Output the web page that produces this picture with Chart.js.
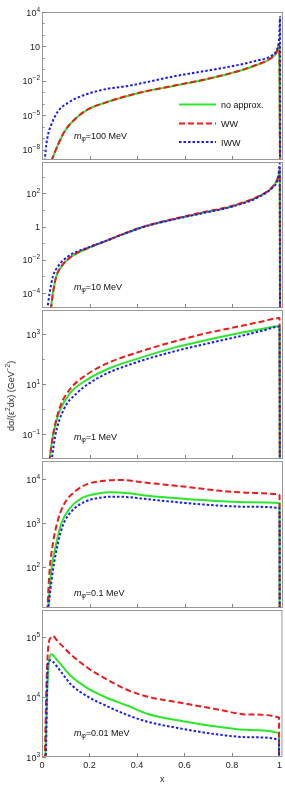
<!DOCTYPE html>
<html>
<head>
<meta charset="utf-8">
<script src="https://cdn.jsdelivr.net/npm/chart.js@4.4.1/dist/chart.umd.min.js"></script>
<style>
    html, body { margin: 0; padding: 0; background: #fff; }
    #wrap { position: relative; width: 285px; height: 788px; overflow: hidden; }
    #wrap canvas { position: absolute; left: 0; top: 0; }
    #ytitle {
        position: absolute; left: 10px; top: 396px;
        transform: translate(-50%, -50%) rotate(-90deg);
        font: 9px "Liberation Sans", Arial, sans-serif;
        white-space: nowrap; color: #222;
    }
    #ytitle sup { font-size: 6.5px; }
</style>
</head>
<body>
<div id="wrap">
    <canvas id="panel0" width="285" height="788"></canvas>
    <canvas id="panel1" width="285" height="788"></canvas>
    <canvas id="panel2" width="285" height="788"></canvas>
    <canvas id="panel3" width="285" height="788"></canvas>
    <canvas id="panel4" width="285" height="788"></canvas>
    <div id="ytitle">dσ/(ε<sup>2</sup>dx) (GeV<sup>−2</sup>)</div>
</div>
<script>
// ===== dσ/(ε²dx) vs x para cinco masas =====

const seriesNames = ['no approx.', 'WW', 'IWW'];
const massLabels = ['100 MeV', '10 MeV', '1 MeV', '0.1 MeV', '0.01 MeV'];
const xTicks = [0, 0.2, 0.4, 0.6, 0.8, 1];

// m = 100 MeV
const exact100 = [[0.039,1e-9],[0.067,2.6e-8],[0.095,3.9e-7],[0.137,4.2e-6],[0.193,3.2e-5],[0.263,1.2e-4],[0.333,3.4e-4],[0.412,9.3e-4],[0.552,3.6e-3],[0.692,1.4e-2],[0.832,7.6e-2],[0.902,0.24],[0.958,0.81],[0.986,3.2],[0.997,17],[1.0005,1e-12]];
const ww100 = [[0.039,1e-9],[0.067,2.7e-8],[0.095,4.0e-7],[0.137,4.3e-6],[0.193,3.3e-5],[0.263,1.2e-4],[0.333,3.5e-4],[0.412,9.5e-4],[0.552,3.7e-3],[0.692,1.45e-2],[0.832,7.8e-2],[0.902,0.25],[0.958,0.83],[0.986,3.3],[0.997,17],[1.0005,1e-12]];
const iww100 = [[0.011,1e-9],[0.018,2.6e-8],[0.025,1.9e-7],[0.039,1.5e-6],[0.067,2.2e-5],[0.109,1.2e-4],[0.165,4.7e-4],[0.263,1.8e-3],[0.361,3.6e-3],[0.412,5.8e-3],[0.552,2.4e-2],[0.692,7.6e-2],[0.832,0.26],[0.902,0.58],[0.958,1.3],[0.986,5.1],[0.997,66],[1.0,3900],[1.0005,1e-12]];
const range100 = [1.26e-9, 1e4];
const yTicks100 = [1e4, 10, 1e-2, 1e-5, 1e-8];
const yLabels100 = ['10^4', '10', '10^−2', '10^−5', '10^−8'];
const yMinor100 = [1e3, 1e2, 1, 0.1, 1e-3, 1e-4, 1e-6, 1e-7];

// m = 10 MeV
const exact10 = [[0.037,1e-5],[0.046,9.8e-5],[0.06,9.8e-4],[0.081,3.9e-3],[0.123,1.55e-2],[0.193,5e-2],[0.263,0.126],[0.333,0.32],[0.43,1.0],[0.524,2.2],[0.664,6.3],[0.804,17.8],[0.916,71],[0.97,257],[0.993,1000],[0.999,2500],[1.0005,1e-12]];
const ww10 = [[0.037,1e-5],[0.046,1e-4],[0.06,1e-3],[0.081,4e-3],[0.123,1.6e-2],[0.193,5.2e-2],[0.263,0.13],[0.333,0.33],[0.43,1.05],[0.524,2.35],[0.664,6.8],[0.804,19],[0.916,75],[0.97,270],[0.993,1050],[0.999,2600],[1.0005,1e-12]];
const iww10 = [[0.022,1e-5],[0.032,1e-4],[0.046,1e-3],[0.067,4e-3],[0.109,1.6e-2],[0.193,5.6e-2],[0.263,0.13],[0.333,0.32],[0.43,1.0],[0.524,2.2],[0.664,6.1],[0.804,17],[0.916,68],[0.97,250],[0.993,1000],[0.999,6600],[1.0005,1e-12]];
const range10 = [1.26e-5, 7.9e3];
const yTicks10 = [1e2, 1, 1e-2, 1e-4];
const yLabels10 = ['10^2', '1', '10^−2', '10^−4'];
const yMinor10 = [1e3, 10, 0.1, 1e-3];

// m = 1 MeV
const exact1 = [[0.031,7.9e-3],[0.041,0.044],[0.055,0.2],[0.076,0.93],[0.118,4.4],[0.188,14.8],[0.286,44],[0.412,112],[0.552,282],[0.692,589],[0.832,1120],[0.93,1660],[0.998,2140],[1.0005,1e-12]];
const ww1 = [[0.031,7.9e-3],[0.045,0.079],[0.076,1.23],[0.118,6.3],[0.188,24],[0.286,76],[0.412,200],[0.552,501],[0.692,1100],[0.832,2090],[0.93,3310],[0.998,4470],[1.0005,1e-12]];
const iww1 = [[0.04,7.9e-3],[0.055,0.079],[0.09,0.91],[0.146,4.3],[0.244,19.5],[0.384,68],[0.552,200],[0.692,417],[0.832,832],[0.93,1410],[0.998,2000],[1.0005,1e-12]];
const range1 = [1e-2, 9.3e3];
const yTicks1 = [1e3, 10, 0.1];
const yLabels1 = ['10^3', '10^1', '10^−1'];
const yMinor1 = [1e2, 1];

// m = 0.1 MeV
const exact01 = [[0.025,10],[0.039,85],[0.06,347],[0.081,977],[0.116,2140],[0.165,3630],[0.235,4680],[0.291,5010],[0.375,4680],[0.445,4170],[0.594,3550],[0.734,3160],[0.874,2950],[0.998,2820],[1.0005,1e-12]];
const ww01 = [[0.022,10],[0.032,85],[0.046,347],[0.067,1170],[0.095,2820],[0.137,5130],[0.193,7760],[0.263,9120],[0.333,9550],[0.431,8320],[0.594,6760],[0.734,5500],[0.874,4900],[0.99,4570],[0.998,4300],[1.0005,1e-12]];
const iww01 = [[0.025,10],[0.046,85],[0.067,347],[0.088,890],[0.123,1820],[0.179,3020],[0.249,3800],[0.319,3980],[0.445,3470],[0.594,2880],[0.734,2510],[0.874,2340],[0.998,2190],[1.0005,1e-12]];
const range01 = [11.7, 2.57e4];
const yTicks01 = [1e4, 1e3, 1e2];
const yLabels01 = ['10^4', '10^3', '10^2'];
const yMinor01 = [];

// m = 0.01 MeV
const exact001 = [[0.014,900],[0.022,12600],[0.029,37200],[0.039,52500],[0.045,51300],[0.06,43600],[0.081,34700],[0.123,22400],[0.193,14100],[0.263,10200],[0.361,7200],[0.445,5250],[0.594,3980],[0.734,3240],[0.874,2820],[0.998,2510],[1.0005,1e-12]];
const ww001 = [[0.012,900],[0.018,12600],[0.025,58900],[0.037,100000],[0.046,105000],[0.067,85100],[0.09,69200],[0.123,51300],[0.193,30900],[0.263,20900],[0.361,13200],[0.445,10200],[0.594,7940],[0.734,6310],[0.874,5130],[0.998,4570],[1.0005,1e-12]];
const iww001 = [[0.016,900],[0.025,37200],[0.036,41700],[0.045,39800],[0.06,33900],[0.081,26300],[0.123,16200],[0.193,10200],[0.263,7410],[0.361,5010],[0.445,3890],[0.594,2950],[0.734,2400],[0.874,2140],[0.998,1950],[1.0005,1e-12]];
const range001 = [1e3, 2.88e5];
const yTicks001 = [1e5, 1e4, 1e3];
const yLabels001 = ['10^5', '10^4', '10^3'];
const yMinor001 = [];

// Estilos y posiciones
const colores = ['rgb(43,232,43)', 'rgb(236,28,28)', 'rgb(28,28,238)'];
const guiones = [[], [6, 3], [2.5, 2]];
const cajas = [[12, 160], [162, 308], [310, 459], [461, 608], [610, 757]];
const etiquetaOffset = [21, 18, 19, 12, 21];
const fuente = '"Liberation Sans", Arial, sans-serif';

const paneles = [
    { datos: [exact100, ww100, iww100], rango: range100, ticks: yTicks100, etiquetas: yLabels100, menores: yMinor100 },
    { datos: [exact10, ww10, iww10], rango: range10, ticks: yTicks10, etiquetas: yLabels10, menores: yMinor10 },
    { datos: [exact1, ww1, iww1], rango: range1, ticks: yTicks1, etiquetas: yLabels1, menores: yMinor1 },
    { datos: [exact01, ww01, iww01], rango: range01, ticks: yTicks01, etiquetas: yLabels01, menores: yMinor01 },
    { datos: [exact001, ww001, iww001], rango: range001, ticks: yTicks001, etiquetas: yLabels001, menores: yMinor001 }
];

function linea(ctx, x1, y1, x2, y2) {
    ctx.beginPath();
    ctx.moveTo(x1, y1);
    ctx.lineTo(x2, y2);
    ctx.stroke();
}

// Marco, ticks interiores, etiquetas de potencias, texto de masa y leyenda
const marcoPlugin = {
    id: 'marco',
    afterDatasetsDraw(chart, args, opts) {
        const { ctx, chartArea: a, scales } = chart;
        const p = paneles[opts.indice];
        ctx.save();
        ctx.strokeStyle = '#999';
        ctx.lineWidth = 1;
        ctx.setLineDash([]);
        ctx.strokeRect(a.left + 0.5, a.top + 0.5, a.right - a.left - 1, a.bottom - a.top - 1);

        ctx.strokeStyle = '#888';
        xTicks.forEach(v => {
            if (v <= 0 || v >= 1) return;
            const px = Math.round(scales.x.getPixelForValue(v)) + 0.5;
            linea(ctx, px, a.bottom, px, a.bottom - 4);
        });
        p.ticks.forEach(v => {
            const py = Math.round(scales.y.getPixelForValue(v)) + 0.5;
            linea(ctx, a.left, py, a.left + 4, py);
        });
        p.menores.forEach(v => {
            const py = Math.round(scales.y.getPixelForValue(v)) + 0.5;
            linea(ctx, a.left, py, a.left + 2.5, py);
        });

        // etiquetas del eje y
        ctx.fillStyle = '#222';
        ctx.textBaseline = 'alphabetic';
        ctx.textAlign = 'left';
        p.ticks.forEach((v, i) => {
            const partes = p.etiquetas[i].split('^');
            const py = scales.y.getPixelForValue(v);
            ctx.font = '9px ' + fuente;
            const wb = ctx.measureText(partes[0]).width;
            let we = 0;
            if (partes[1]) {
                ctx.font = '6.5px ' + fuente;
                we = ctx.measureText(partes[1]).width;
            }
            const x0 = a.left - 2 - wb - we;
            ctx.font = '9px ' + fuente;
            ctx.fillText(partes[0], x0, py + 3.5);
            if (partes[1]) {
                ctx.font = '6.5px ' + fuente;
                ctx.fillText(partes[1], x0 + wb, py - 0.5);
            }
        });

        // m_phi = ...
        let tx = 74;
        const ty = a.bottom - etiquetaOffset[opts.indice];
        ctx.fillStyle = '#111';
        ctx.font = 'italic 9px ' + fuente;
        ctx.fillText('m', tx, ty);
        tx += ctx.measureText('m').width;
        ctx.font = 'italic 6.5px ' + fuente;
        ctx.fillText('φ', tx, ty + 2);
        tx += ctx.measureText('φ').width;
        ctx.font = '9px ' + fuente;
        ctx.fillText('=' + massLabels[opts.indice], tx, ty);

        // leyenda en el primer panel
        if (opts.indice === 0) {
            const filas = [104.5, 123.5, 142];
            chart.data.datasets.forEach((ds, i) => {
                ctx.strokeStyle = ds.borderColor;
                ctx.lineWidth = ds.borderWidth;
                ctx.setLineDash(ds.borderDash);
                linea(ctx, 179, filas[i], 216, filas[i]);
                ctx.setLineDash([]);
                ctx.fillStyle = '#111';
                ctx.font = '9px ' + fuente;
                ctx.fillText(ds.label, 221, filas[i] + 3.5);
            });
        }
        ctx.restore();
    }
};

function crearSerie(puntos, i) {
    return {
        label: seriesNames[i],
        data: puntos.map(p => ({ x: p[0], y: p[1] })),
        borderColor: colores[i],
        borderWidth: 2,
        borderDash: guiones[i],
        pointRadius: 0,
        fill: false,
        cubicInterpolationMode: 'monotone',
        order: 3 - i,
        clip: 0
    };
}

function crearPanel(indice) {
    const p = paneles[indice];
    const ultimo = indice === paneles.length - 1;
    const ctx = document.getElementById('panel' + indice);
    return new Chart(ctx, {
        type: 'line',
        data: { datasets: p.datos.map(crearSerie) },
        options: {
            responsive: false,
            animation: false,
            devicePixelRatio: 1,
            events: [],
            layout: {
                padding: { top: cajas[indice][0], bottom: ultimo ? 0 : 788 - cajas[indice][1], left: 0, right: 2 }
            },
            scales: {
                x: {
                    type: 'linear',
                    min: 0,
                    max: 1.0126,
                    display: ultimo,
                    grid: { display: false, drawTicks: false },
                    border: { display: false },
                    afterBuildTicks: s => { s.ticks = xTicks.map(v => ({ value: v })); },
                    afterFit: s => { s.height = ultimo ? 31 : 0; },
                    ticks: {
                        padding: 3,
                        color: '#222',
                        font: { family: fuente, size: 9 },
                        maxRotation: 0,
                        callback: v => (v === 0 || v === 1) ? String(v) : v.toFixed(1)
                    },
                    title: {
                        display: true,
                        text: 'x',
                        color: '#222',
                        font: { family: fuente, size: 9 },
                        padding: { top: 2, bottom: 3 }
                    }
                },
                y: {
                    type: 'logarithmic',
                    min: p.rango[0],
                    max: p.rango[1],
                    grid: { display: false, drawTicks: false },
                    border: { display: false },
                    ticks: { display: false },
                    afterFit: s => { s.width = 42; }
                }
            },
            plugins: {
                legend: { display: false },
                tooltip: { enabled: false },
                marco: { indice: indice }
            }
        },
        plugins: [marcoPlugin]
    });
}

paneles.forEach((p, i) => crearPanel(i));
</script>
</body>
</html>
